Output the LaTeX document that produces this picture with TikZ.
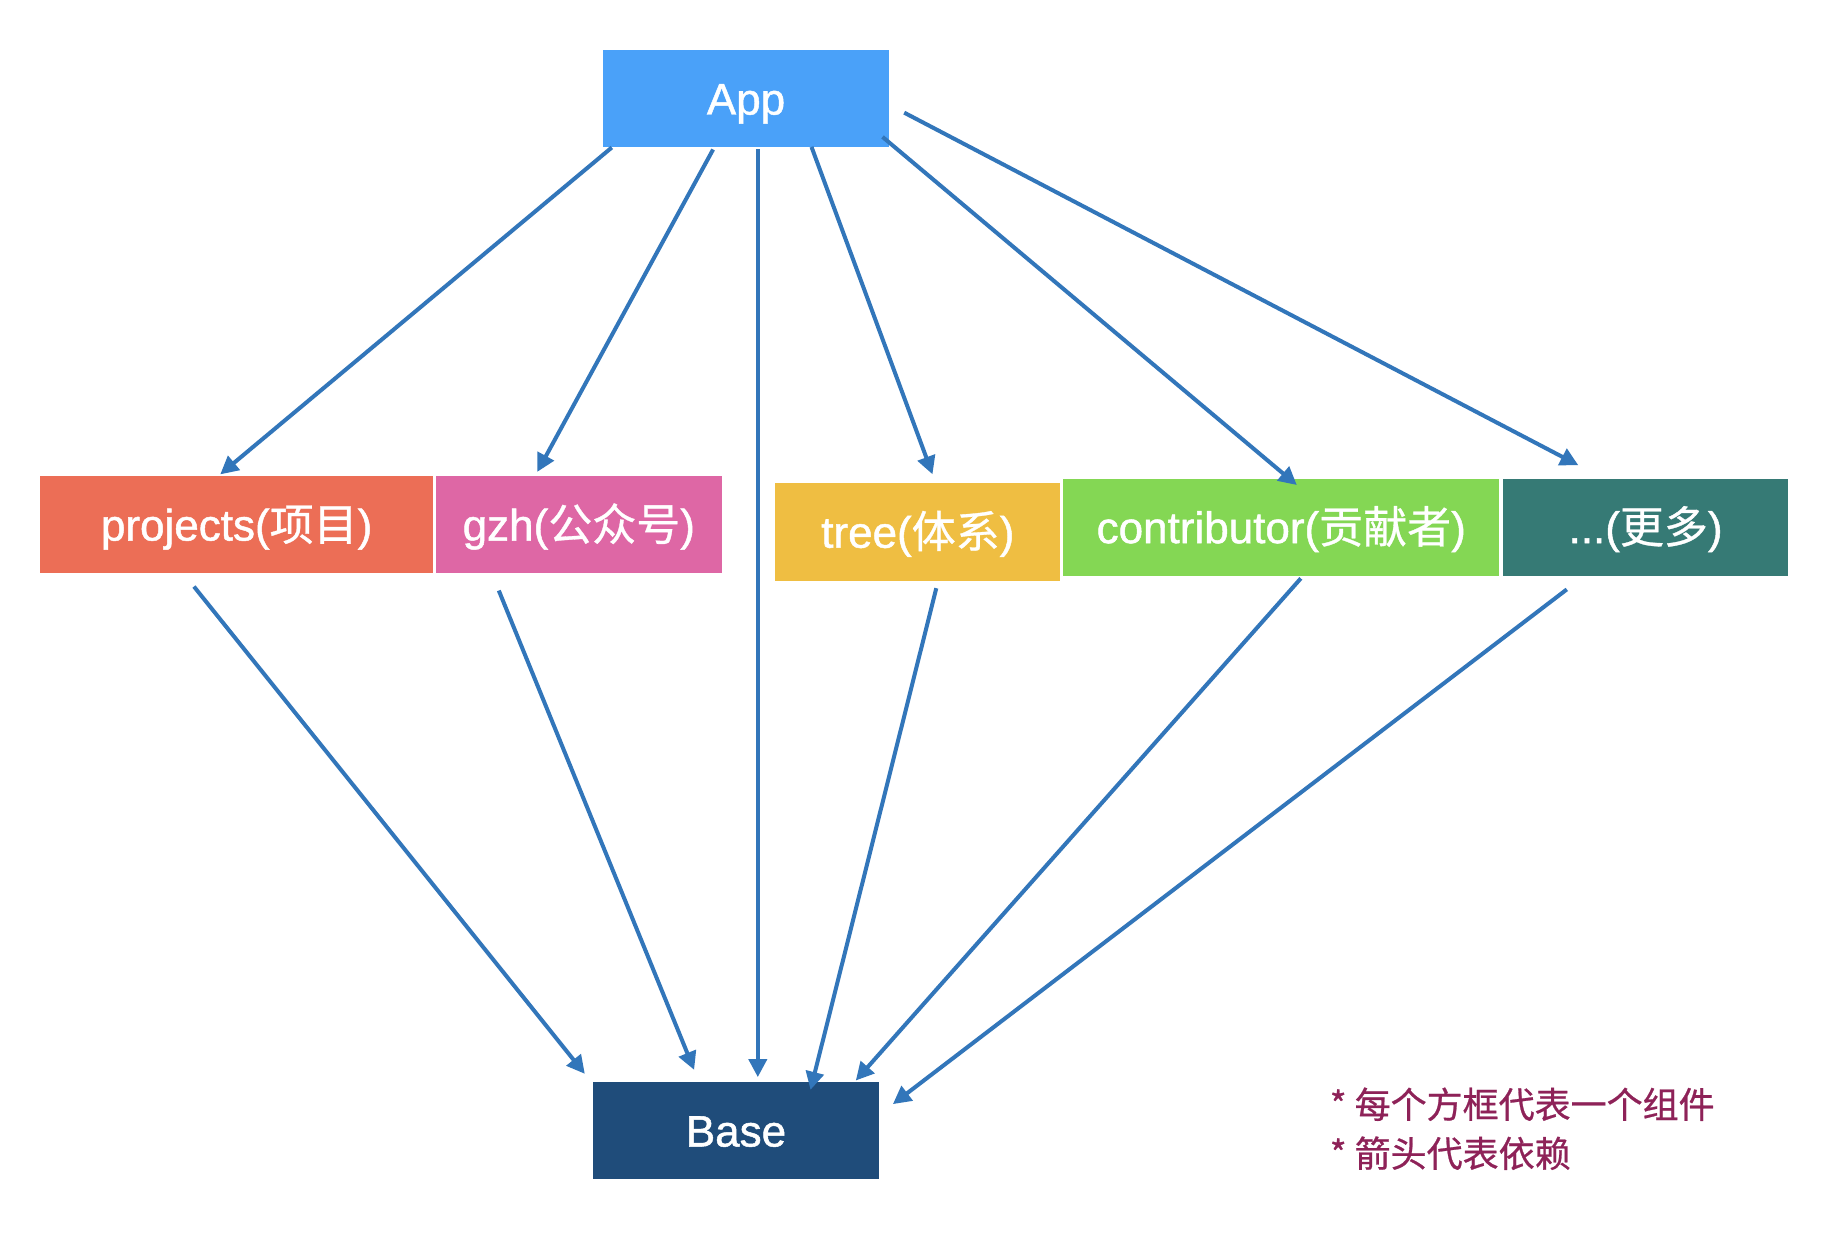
\documentclass[tikz,border=0pt]{standalone}
\usepackage{fontspec}
\setmainfont{Liberation Sans}[FakeBold=1.1]
\newfontfamily\zhfont{Noto Sans CJK SC}[FakeBold=0.7]
\newcommand{\zh}[1]{{\zhfont #1}}
\usetikzlibrary{arrows.meta,calc}
\definecolor{appc}{HTML}{4AA1F9}
\definecolor{projc}{HTML}{EC6E56}
\definecolor{gzhc}{HTML}{DE67A5}
\definecolor{treec}{HTML}{EFBE42}
\definecolor{contribc}{HTML}{84D754}
\definecolor{morec}{HTML}{367A75}
\definecolor{basec}{HTML}{1F4C7A}
\definecolor{arrowc}{HTML}{3276BA}
\definecolor{notec}{HTML}{8E2258}
\tikzset{
  compbox/.style={rectangle, inner sep=0pt, text=white,
    minimum height=97.3pt, text height=31.7pt, text depth=0pt,
    font=\fontsize{44pt}{48pt}\selectfont},
  dep/.style={draw=arrowc, line width=4pt,
    -{Triangle[length=18pt,width=18pt]}},
  notetext/.style={anchor=base west, inner sep=0pt, text=notec,
    font=\zhfont\fontsize{36pt}{40pt}\selectfont}
}
\begin{document}
\begin{tikzpicture}[x=1pt,y=-1pt]
\useasboundingbox[fill=white] (0,0) rectangle (1828,1238);
% boxes
\node[compbox, fill=appc, minimum width=286pt] (app) at (746,98.65) {App};
\node[compbox, fill=projc, minimum width=393pt] (proj) at (236.65,524.7) {projects(\zh{项目})};
\node[compbox, fill=gzhc, minimum width=285.6pt] (gzh) at (578.8,524.7) {gzh(\zh{公众号})};
\node[compbox, fill=treec, minimum width=285pt] (tree) at (917.8,531.85) {tree(\zh{体系})};
\node[compbox, fill=contribc, minimum width=436.1pt] (contrib) at (1281.25,527.25) {contributor(\zh{贡献者})};
\node[compbox, fill=morec, minimum width=285.7pt] (more) at (1645.55,527.25) {...(\zh{更多})};
\node[compbox, fill=basec, minimum width=286pt] (base) at (736,1130.65) {Base};
% App -> components
\draw[dep] ($(app.south west)+(9,0)$) -- ($(proj.north west)+(180.3,-1.5)$);
\draw[dep] ($(app.south west)+(110.3,2)$) -- ($(gzh.north west)+(101.5,-4)$);
\draw[dep] ($(app.south west)+(155,2)$) -- ($(base.north west)+(165,-4.7)$);
\draw[dep] ($(app.south west)+(208.7,-0.6)$) -- ($(tree.north west)+(157.4,-8.7)$);
\draw[dep] ($(app.south east)+(-6.7,-10.6)$) -- ($(contrib.north west)+(233.8,6.6)$);
\draw[dep] ($(app.east)+(15,14)$) -- ($(more.north west)+(75.8,-13.2)$);
% components -> Base
\draw[dep] ($(proj.south west)+(154,13)$) -- ($(base.north west)+(-8,-8)$);
\draw[dep] ($(gzh.south west)+(63,17)$) -- ($(base.north west)+(101.3,-12)$);
\draw[dep] ($(tree.south west)+(161.2,7.5)$) -- ($(base.north west)+(217.7,8)$);
\draw[dep] ($(contrib.south west)+(237.8,2.3)$) -- ($(base.north west)+(263,-1.3)$);
\draw[dep] ($(more.south west)+(64.3,13.3)$) -- ($(base.north east)+(13.7,22.3)$);
% note
\node[notetext] (note1) at (1329.6,1118) {* 每个方框代表一个组件};
\node[notetext] (note2) at (1329.6,1167) {* 箭头代表依赖};
\end{tikzpicture}
\end{document}
